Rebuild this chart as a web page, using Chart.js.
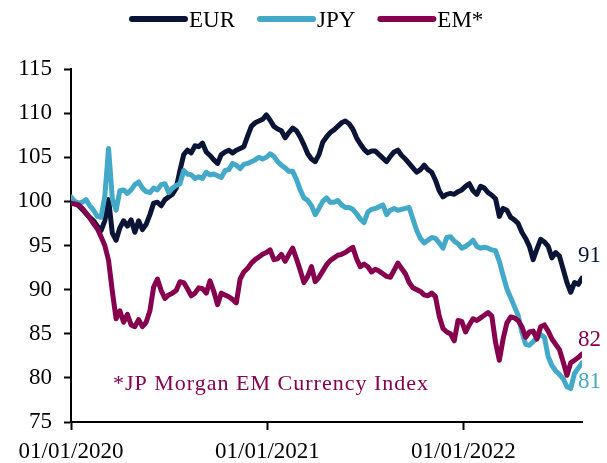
<!DOCTYPE html>
<html>
<head>
<meta charset="utf-8">
<script src="https://cdn.jsdelivr.net/npm/chart.js@4.4.0/dist/chart.umd.min.js"></script>
<style>
html,body{margin:0;padding:0;background:#fff}
#wrap{width:607px;height:463px}
</style>
</head>
<body>
<div id="wrap"><canvas id="fx" width="607" height="463"></canvas></div>
<script>
// weekly readings, index 01/01/2020 = 100
const eur=[100,99.8,99.5,99.1,98.6,98.2,97.8,97.2,96.7,97.8,
100.2,96.4,95.6,97,97.8,97.2,97.9,96.5,97.8,96.8,
97.4,98.5,99.8,99.9,99.5,100.2,100.5,100.8,101.5,103.5,
105.3,105.8,105.5,106.3,106.2,106.6,105.6,105.2,104.7,104.3,
105.3,105.6,105.8,105.5,105.8,106,106.2,107.4,108.5,108.9,
109.1,109.3,109.8,109.2,108.5,108.2,108,107.2,107.8,108.3,
108,107.3,106.4,105.4,104.8,104.5,105.3,106.7,107.3,107.8,
108.1,108.5,108.9,109.1,108.8,108.2,107.2,106.5,105.9,105.5,
105.7,105.7,105.3,104.9,104.5,105.1,105.6,105.8,105.2,104.8,
104.3,103.8,103.3,103.6,104.1,103.6,103.3,102.4,101.2,100.5,
100.8,100.9,100.8,101.1,101.3,101.7,102,101.2,100.8,101.7,
101.5,101,100.7,100.3,98.3,99.2,99,98.2,97.9,97.5,
96.5,95.8,94.9,93.4,94.6,95.7,95.4,94.9,93.6,94.2,
93.8,92.3,90.8,89.7,90.8,90.6,91.3];
const jpy=[100.5,100,99.8,99.9,100.2,99.5,99,98.3,98.2,100.6,
106,100.3,99,101.2,101.3,100.9,101.3,101.9,102.2,101.5,
101.1,101,101.5,101.3,101.9,102,101,101.5,101.8,102,
103.5,103.1,103,102.6,102.8,102.6,103.3,103,103.1,102.9,
102.7,103.5,103.6,104.3,104.1,103.7,104.2,104.3,104.5,104.7,
105,104.8,105,105.4,105.1,104.5,104.1,103.8,103.4,103.4,
102.5,101.3,100.4,100.1,99.5,98.5,99.2,100,100.4,99.9,
99.9,100.1,99.6,99.3,99.3,99.1,98.6,98,97.6,98.8,
99.1,99.2,99.4,99.6,98.5,99,99.2,99,99.1,99.2,
99.3,98,96.7,95.8,95.3,95.6,95.9,95.8,95.3,94.7,
95.9,96,95.5,95.2,94.7,94.9,95.2,95.6,94.9,94.7,
94.8,94.7,94.5,94.4,93.2,91.6,90.1,89.1,88.1,87.1,
85.2,83.8,83.7,84.1,84.5,84.9,84.6,82.4,81.4,80.8,
80.4,79.9,79,78.8,80.5,81.1,81.7];
const em=[99.8,99.7,99.6,99.2,98.7,98.1,97.5,96.9,96,95,
93.3,89.8,86.7,87.6,86.3,87.2,86,85.8,86.6,85.8,
86.3,87.6,90.3,91.2,89.9,89,89.4,89.6,89.9,90.9,
90.8,90.1,89.3,89.6,90.2,90.1,89.6,91,89.8,88.3,
89.6,89.4,89.2,88.9,88.5,91.2,92,92.4,93,93.4,
93.7,94,94.2,94.5,93.4,93.5,94,93.2,94,94.7,
93.5,92.2,90.8,91.5,92.6,90.9,91.4,92.1,92.8,93.3,
93.6,93.9,94,94.2,94.5,94.8,93.5,92.6,92.9,92.6,
92,92.3,92.1,91.8,91.5,91.4,92.2,93,92.4,91.8,
90.8,90.2,90,89.8,89.4,89.3,89.6,89.2,87,85.6,
85.2,85,84.2,86.5,86.4,85.2,86,86.7,86.5,86.8,
87.1,87.4,87,84,82,84.4,86.2,86.9,86.8,86.5,
85.8,84.6,85.2,85.3,84.4,85.8,86,85.3,84.4,83.8,
83.2,81.8,80.3,81.7,82,82.3,82.7];
const seriesNames=['EUR','JPY','EM*'];
const seriesColors=['#0a1437','#42a9c9','#87004f'];
const tickDays=[0,366,731];
const tickLabels=['01/01/2020','01/01/2021','01/01/2022'];
const endLabels=['91','81','82'];
const endLabelAt=[93.8,79.5,84.3];
const noteText='*JP Morgan EM Currency Index';

const days=eur.map((v,i)=>i*7);
const FONT='"Liberation Serif","Times New Roman",serif';

function toPts(arr){return arr.map((v,i)=>({x:days[i],y:v}))}

const legendPlugin={
  id:'topLegend',
  afterDraw(chart){
    const ctx=chart.ctx;
    ctx.save();
    ctx.font='23px '+FONT;
    ctx.textBaseline='alphabetic';
    let x=132;
    chart.data.datasets.forEach(ds=>{
      ctx.strokeStyle=ds.borderColor;ctx.lineWidth=6;ctx.lineCap='round';
      ctx.beginPath();ctx.moveTo(x,19);ctx.lineTo(x+53,19);ctx.stroke();
      ctx.fillStyle='#000';
      ctx.fillText(ds.label,x+57,27);
      x+=57+ctx.measureText(ds.label).width+25;
    });
    ctx.restore();
  }
};

const tagPlugin={
  id:'endTags',
  afterDatasetsDraw(chart){
    const ctx=chart.ctx,ys=chart.scales.y,area=chart.chartArea;
    ctx.save();
    ctx.font='23px '+FONT;
    ctx.textAlign='left';ctx.textBaseline='middle';
    endLabels.forEach((t,i)=>{
      ctx.fillStyle=seriesColors[i];
      ctx.fillText(t,area.right-4,ys.getPixelForValue(endLabelAt[i]));
    });
    ctx.fillStyle=seriesColors[2];
    ctx.font='22px '+FONT;
    ctx.textBaseline='alphabetic';
    ctx.letterSpacing='1px';
    ctx.fillText(noteText,area.left+42,ys.getPixelForValue(78.6));
    ctx.restore();
  }
};

new Chart(document.getElementById('fx'),{
  type:'line',
  data:{datasets:[
    {label:seriesNames[0],data:toPts(eur),borderColor:seriesColors[0],order:2},
    {label:seriesNames[1],data:toPts(jpy),borderColor:seriesColors[1],order:1},
    {label:seriesNames[2],data:toPts(em),borderColor:seriesColors[2],order:0}
  ]},
  options:{
    responsive:false,animation:false,events:[],
    elements:{line:{borderWidth:5,tension:0,borderJoinStyle:'round',borderCapStyle:'round'},point:{radius:0}},
    layout:{padding:{top:69,right:25,left:0,bottom:0}},
    plugins:{legend:{display:false},tooltip:{enabled:false}},
    scales:{
      x:{type:'linear',min:0,max:days[days.length-1],
        afterBuildTicks:s=>{s.ticks=tickDays.map(v=>({value:v}))},
        afterFit:s=>{s.height=41},
        ticks:{callback:v=>tickLabels[tickDays.indexOf(v)],font:{family:FONT,size:23},color:'#000',padding:8,maxRotation:0,autoSkip:false},
        grid:{drawOnChartArea:false,tickLength:8,tickWidth:2,tickColor:'#000'},
        border:{color:'#000',width:2}},
      y:{min:75,max:115,
        afterFit:s=>{s.width=71},
        ticks:{stepSize:5,font:{family:FONT,size:23},color:'#000',padding:12},
        grid:{drawOnChartArea:false,tickLength:7,tickWidth:2,tickColor:'#000'},
        border:{color:'#000',width:2}}
    }
  },
  plugins:[legendPlugin,tagPlugin]
});
</script>
</body>
</html>
